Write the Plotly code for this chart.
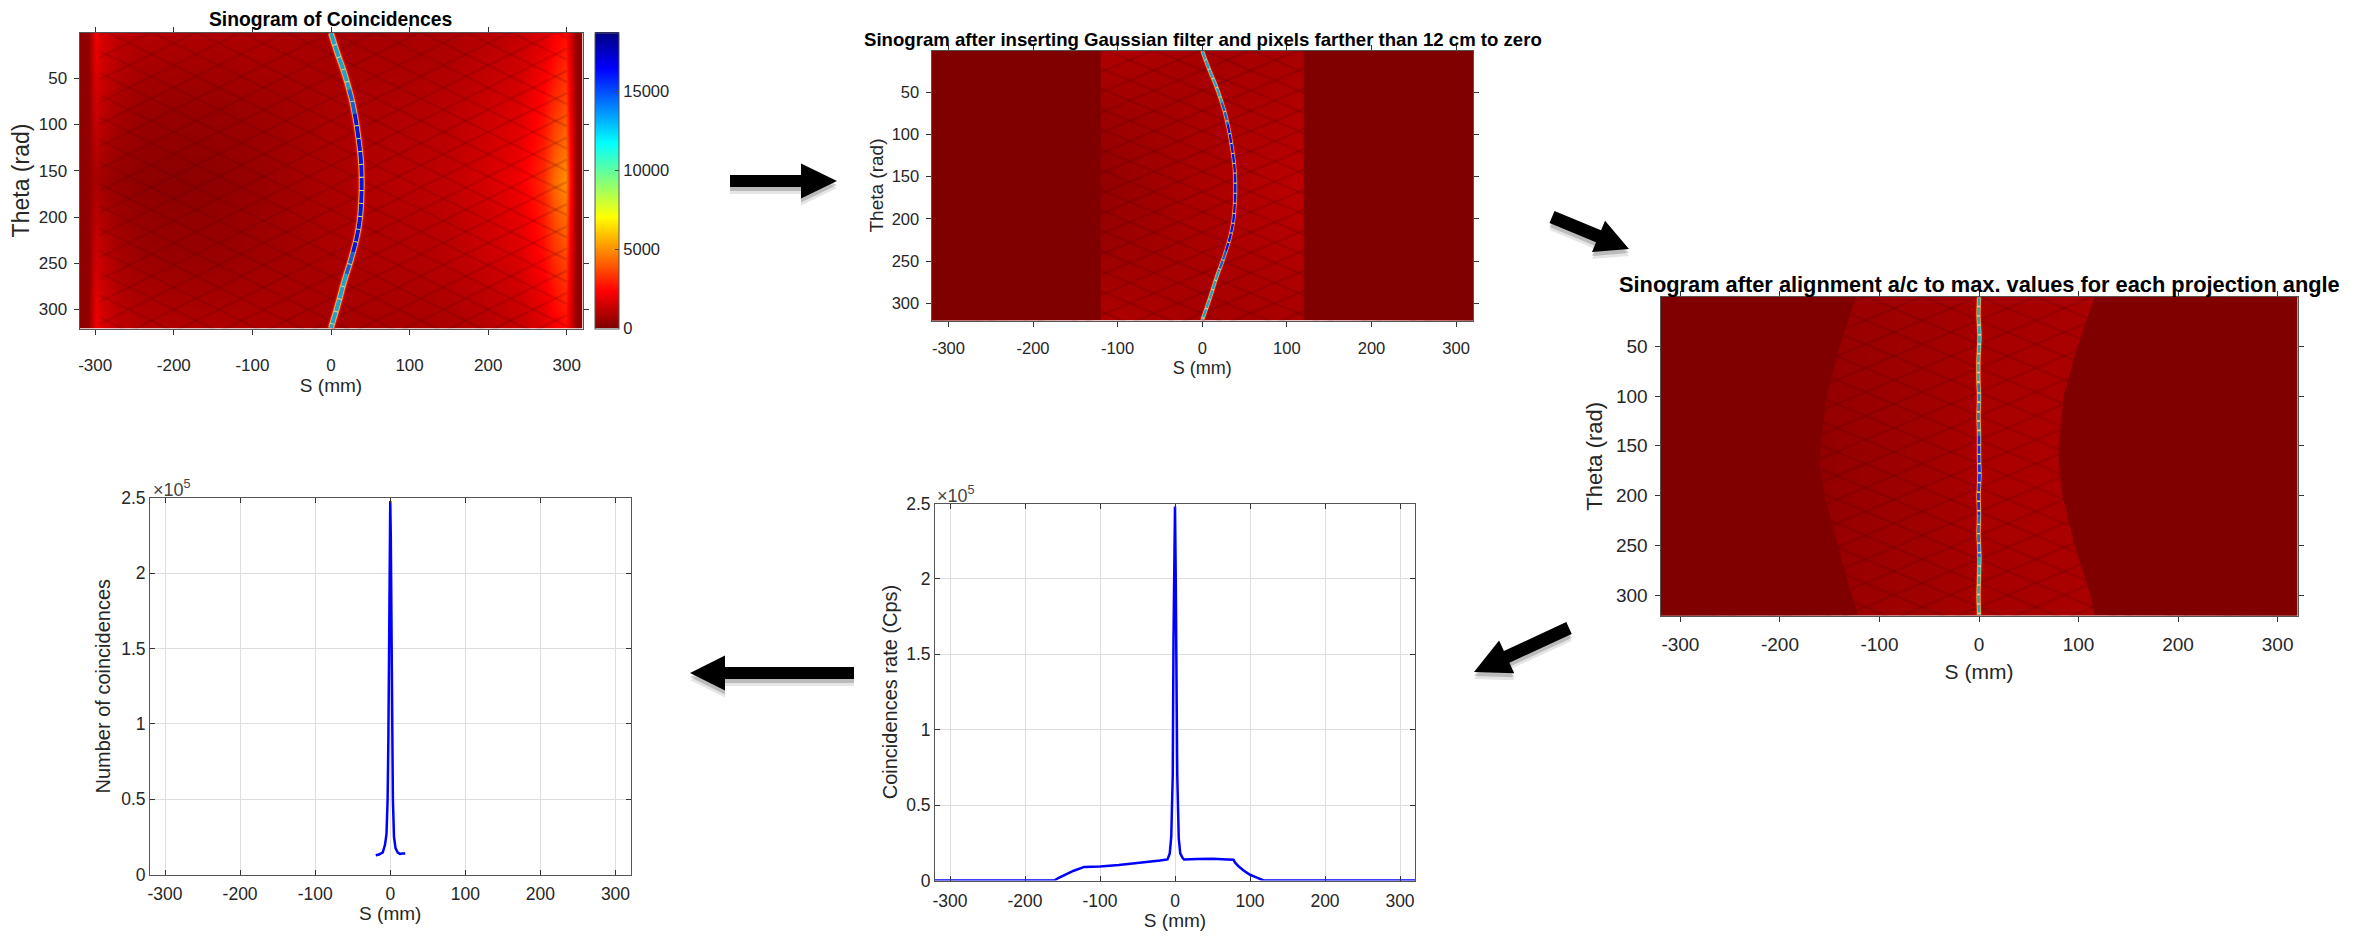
import plotly.graph_objects as go

W, H = 2367, 936
FONT = "Liberation Sans, Arial, sans-serif"
INK = "#262626"

# ---------- data ----------
S_TICKS = [-300, -200, -100, 0, 100, 200, 300]
THETA_TICKS = [50, 100, 150, 200, 250, 300]
CB_TICKS = [0, 5000, 10000, 15000]
RATE_TICKS = [0, 50000, 100000, 150000, 200000, 250000]
RATE_TICK_TEXT = ["0", "0.5", "1", "1.5", "2", "2.5"]

JET = [[0, "#800000"], [0.125, "#ff0000"], [0.375, "#ffff00"], [0.625, "#00ffff"],
       [0.875, "#0000ff"], [1, "#000080"]]
Z_MAX = 18700

# sinogram background
BG_S = [-320, -308, -300, -290, -270, -240, -200, -150, -100, -50, 0, 50, 100, 150, 200, 240, 270, 285, 298, 304, 312, 320]
BG_THETA = [1, 80, 160, 240, 320]
BG_Z = [
    [280, 340, 2100, 1600, 1130, 960, 900, 850, 850, 790, 700, 720, 720, 800, 1000, 1250, 1700, 2150, 2500, 1700, 340, 280],
    [280, 340, 1450, 1130, 730, 510, 450, 450, 560, 660, 780, 840, 920, 1050, 1400, 1700, 2500, 3200, 3700, 2250, 340, 280],
    [280, 340, 790, 560, 400, 280, 230, 280, 420, 640, 800, 920, 1050, 1200, 1600, 2100, 3100, 4300, 5000, 2800, 340, 280],
    [280, 340, 1450, 1130, 730, 510, 450, 450, 560, 660, 780, 840, 920, 1050, 1400, 1700, 2500, 3200, 3700, 2250, 340, 280],
    [280, 340, 2100, 1600, 1130, 960, 900, 850, 850, 790, 700, 720, 720, 800, 1000, 1250, 1700, 2150, 2500, 1700, 340, 280],
]
# aligned sinogram background
AL_S = [-320, -160, -120, -60, 0, 60, 120, 320]
AL_THETA = [1, 160, 320]
AL_Z = [
    [0, 450, 520, 600, 700, 720, 760, 0],
    [0, 320, 450, 600, 780, 820, 860, 0],
    [0, 450, 520, 600, 700, 720, 760, 0],
]
# crossing dark lines of the sinogram
LATTICE_INTERCEPTS = [-144, -120, -96, -72, -48, -24, 0, 24, 48, 72, 96, 120, 144, 168, 192, 216, 240, 264, 288, 312, 336, 360, 384, 408, 432, 456]
LATTICE_SLOPE = 0.42

# ridge of maximum values
RIDGE_THETA = [1, 12, 25, 38, 50, 62, 75, 88, 100, 112, 125, 138, 150, 170, 185, 200, 212, 225, 238, 250, 262, 275, 288, 300, 310, 320]
RIDGE_S = [0, 4, 9, 14.5, 19, 23, 27, 30, 32.5, 34.5, 36.5, 38, 38.8, 39, 38.3, 37, 35, 32, 28, 24, 19.5, 15, 11, 7, 3.5, 0]
ALIGNED_THETA = [1, 20, 40, 62, 88, 100, 120, 140, 160, 180, 200, 220, 238, 262, 280, 300, 320]
ALIGNED_S = [0, -0.5, 0.5, -0.5, -0.5, 0, -0.5, 0, 0, 0.5, -0.5, 0, -0.5, 0.5, 0, -0.5, 0]
RIDGE_COLOR_BANDS = [(1, 62, "#1fa4c8"), (62, 88, "#1060d0"), (88, 238, "#0018d8"), (238, 262, "#1060d0"), (262, 320, "#1fa4c8")]
ALIGNED_COLOR_BANDS = [(1, 88, "#20b0b0"), (88, 140, "#1880c0"), (140, 220, "#0838d8"), (220, 262, "#1070d0"), (262, 320, "#20b0b0")]

# band kept after the 12 cm cut
CUT_THETA = [1, 320]
CUT_LEFT = [-120, -120]
CUT_RIGHT = [120, 120]
AL_EDGE_THETA = [1, 50, 100, 150, 170, 200, 250, 300, 320]
AL_EDGE_LEFT = [-124, -140, -153, -159, -160, -155, -142, -128, -121]
AL_EDGE_RIGHT = [116, 99, 85, 80, 80, 84, 96, 112, 116]

# profiles
RATE_S = [-320, -200, -161, -155, -147, -135, -121, -100, -75, -50, -20, -10, -7, -5, -3, -2, -1, 0, 1, 2, 3, 5, 7, 10,
          12, 30, 50, 70, 78, 80, 85, 92, 100, 110, 118, 200, 320]
RATE_V = [0, 0, 0, 1800, 3800, 6500, 9000, 9300, 10300, 11500, 13300, 14000, 18000, 29000, 70000, 160000, 228000, 248000,
          200000, 120000, 70000, 28000, 18000, 15000, 14000, 14300, 14400, 14000, 13800, 12000, 9300, 6500, 3800, 1800, 0, 0, 0]
CUT_PROFILE_S = [-19.3, -15, -10, -7, -5, -3.5, -2.5, -1.5, -0.7, 0, 0.7, 1.5, 2.5, 3.5, 5, 7, 10, 13, 16, 20]
CUT_PROFILE_V = [12800, 13300, 14600, 19700, 27000, 50000, 90000, 160000, 225000, 248000, 225000, 160000, 90000, 50000, 25000, 17500, 14600, 13700, 13900, 14000]

# panel frames in pixels: left, right, top, bottom
P1 = (79.5, 582.5, 32.5, 328.5)
P2 = (931.5, 1473, 50.5, 320.5)
P3 = (1660.5, 2297.5, 297, 615.5)
P4 = (935, 1415, 503.5, 880.5)
P5 = (150, 630.5, 498, 874.5)

# arrows: tail, tip, shaft half width, head length, head half width, in pixels
ARROWS = [
    ((730, 181), (837, 181), 6, 36, 17.5),
    ((1552, 217), (1629, 249), 6.5, 33, 17),
    ((1569, 628), (1474, 672), 6.5, 36, 18),
    ((854, 673), (690, 673), 6, 35, 17.5),
]

# ---------- helpers ----------
fig = go.Figure()


def dom(p):
    return [p[0] / W, p[1] / W], [1 - p[3] / H, 1 - p[2] / H]


def axes(n, p, tick_size, x_size, y_size, label_pad, xstand, ystand, image=True, ytitle="Theta (rad)"):
    dx, dy = dom(p)
    sfx = "" if n == 1 else str(n)
    common = dict(showline=True, linecolor="#555555", linewidth=1, mirror="allticks",
                  tickcolor="#333333", tickfont=dict(family=FONT, size=tick_size, color=INK),
                  zeroline=False, automargin=False)
    x = dict(common, domain=dx, anchor="y" + sfx, range=[-320, 320], tickvals=S_TICKS,
             ticktext=[str(v) for v in S_TICKS], ticklabelstandoff=label_pad,
             title=dict(text="S (mm)", font=dict(family=FONT, size=x_size, color=INK), standoff=xstand))
    y = dict(common, domain=dy, anchor="x" + sfx,
             title=dict(text=ytitle, font=dict(family=FONT, size=y_size, color=INK), standoff=ystand))
    if image:
        x.update(ticks="outside", ticklen=5, showgrid=False)
        y.update(ticks="outside", ticklen=5, showgrid=False, range=[320.5, 0.5], tickvals=THETA_TICKS,
                 ticktext=[str(v) for v in THETA_TICKS], ticklabelstandoff=3)
    else:
        x.update(ticks="inside", ticklen=5, showgrid=True, gridcolor="#dedede", gridwidth=1)
        y.update(ticks="inside", ticklen=5, showgrid=True, gridcolor="#dedede", gridwidth=1, range=[0, 250000],
                 tickvals=RATE_TICKS, ticktext=RATE_TICK_TEXT)
    fig.update_layout({"xaxis" + sfx: x, "yaxis" + sfx: y})
    return "x" + sfx, "y" + sfx


def heat(xa, ya, s, theta, z, bar=False):
    t = dict(type="heatmap", x=s, y=theta, z=z, zmin=0, zmax=Z_MAX, colorscale=JET, zsmooth="best",
             xaxis=xa, yaxis=ya, showscale=bar, hoverinfo="skip")
    if bar:
        t["colorbar"] = dict(x=594.5 / W, xanchor="left", xpad=0, ypad=0, thickness=24, thicknessmode="pixels",
                             y=1 - P1[3] / H, yanchor="bottom", len=(P1[3] - P1[2]) / H, lenmode="fraction",
                             tickvals=CB_TICKS, tickformat="d", ticks="inside", ticklen=4, tickcolor="#444444",
                             outlinecolor="#555555", outlinewidth=1,
                             tickfont=dict(family=FONT, size=16.5, color=INK))
    fig.add_trace(go.Heatmap(t))


def lattice(xa, ya, alpha):
    xs, ys = [], []
    for c in LATTICE_INTERCEPTS:
        for sign in (1, -1):
            xs += [-295, 300, None]
            ys += [c + sign * LATTICE_SLOPE * -295, c + sign * LATTICE_SLOPE * 300, None]
    fig.add_trace(go.Scatter(x=xs, y=ys, mode="lines", xaxis=xa, yaxis=ya, hoverinfo="skip", showlegend=False,
                             line=dict(color=f"rgba(80,0,0,{alpha})", width=2.4)))


def mask(xa, ya, theta, left, right):
    fill = dict(mode="lines", fill="toself", fillcolor="#800000", line=dict(width=0, color="#800000"),
                xaxis=xa, yaxis=ya, hoverinfo="skip", showlegend=False)
    fig.add_trace(go.Scatter(x=[-320] + left + [-320], y=[theta[0]-1] + theta + [theta[-1]+1], **fill))
    fig.add_trace(go.Scatter(x=[320] + right + [320], y=[theta[0]-1] + theta + [theta[-1]+1], **fill))


def ridge(xa, ya, s, theta, scale, dash, bands):
    for color, w in (("rgba(255,0,0,0.55)", 9), ("#ff5a00", 6.4), ("#e6d68a", 5)):
        fig.add_trace(go.Scatter(x=s, y=theta, mode="lines", xaxis=xa, yaxis=ya, hoverinfo="skip", showlegend=False,
                                 line=dict(color=color, width=w * scale, shape="spline")))
    for lo, hi, color in bands:
        idx = [i for i, t in enumerate(theta) if lo <= t <= hi]
        fig.add_trace(go.Scatter(x=[s[i] for i in idx], y=[theta[i] for i in idx], mode="lines",
                                 xaxis=xa, yaxis=ya, hoverinfo="skip", showlegend=False,
                                 line=dict(color=color, width=4 * scale, dash=dash, shape="spline")))


def px_path(pts):
    return "M " + " L ".join(f"{x / W:.5f},{1 - y / H:.5f}" for x, y in pts) + " Z"


def arrow_pts(tail, tip, half, hlen, hhalf):
    dx, dy = tip[0] - tail[0], tip[1] - tail[1]
    n = (dx * dx + dy * dy) ** 0.5
    ux, uy = dx / n, dy / n
    vx, vy = -uy, ux
    bx, by = tip[0] - ux * hlen, tip[1] - uy * hlen
    return [(tail[0] + vx * half, tail[1] + vy * half), (bx + vx * half, by + vy * half),
            (bx + vx * hhalf, by + vy * hhalf), tip, (bx - vx * hhalf, by - vy * hhalf),
            (bx - vx * half, by - vy * half), (tail[0] - vx * half, tail[1] - vy * half)]


def label(x, y, text, size, bold=True, color="black"):
    fig.add_annotation(xref="paper", yref="paper", x=x / W, y=1 - y / H, text=f"<b>{text}</b>" if bold else text,
                       showarrow=False, xanchor="center", yanchor="middle",
                       font=dict(family=FONT, size=size, color=color))


# ---------- panels ----------
xa, ya = axes(1, P1, 17, 19, 23, 16, 4, 2)
heat(xa, ya, BG_S, BG_THETA, BG_Z, bar=True)
lattice(xa, ya, 0.16)
ridge(xa, ya, RIDGE_S, RIDGE_THETA, 1.0, "12px,1px", RIDGE_COLOR_BANDS)

xa, ya = axes(2, P2, 16.5, 18, 19, 8, 5, 3)
heat(xa, ya, BG_S, BG_THETA, BG_Z)
lattice(xa, ya, 0.18)
mask(xa, ya, CUT_THETA, CUT_LEFT, CUT_RIGHT)
ridge(xa, ya, RIDGE_S, RIDGE_THETA, 0.62, "9px,1px", RIDGE_COLOR_BANDS)

xa, ya = axes(3, P3, 19, 21, 22, 7, 10, 7)
heat(xa, ya, AL_S, AL_THETA, AL_Z)
lattice(xa, ya, 0.18)
mask(xa, ya, AL_EDGE_THETA, AL_EDGE_LEFT, AL_EDGE_RIGHT)
ridge(xa, ya, ALIGNED_S, ALIGNED_THETA, 0.7, "8px,1.5px", ALIGNED_COLOR_BANDS)

xa, ya = axes(4, P4, 17.5, 19, 20, 4, 3, 3, image=False, ytitle="Coincidences rate (Cps)")
fig.add_trace(go.Scatter(x=RATE_S, y=RATE_V, mode="lines", xaxis=xa, yaxis=ya, showlegend=False,
                         line=dict(color="#0000ff", width=2.5)))
xa, ya = axes(5, P5, 17.5, 19, 20, 3, 4, 5, image=False, ytitle="Number of coincidences")
fig.add_trace(go.Scatter(x=CUT_PROFILE_S, y=CUT_PROFILE_V, mode="lines", xaxis=xa, yaxis=ya, showlegend=False,
                         line=dict(color="#0000ff", width=2.5)))

# ---------- titles ----------
label(331, 19, "Sinogram of Coincidences", 19.3)
label(1202.5, 40, "Sinogram after inserting Gaussian filter and pixels farther than 12 cm to zero", 18.6)
label(1979, 284, "Sinogram after alignment a/c to max. values for each projection angle", 21.8)
label(956, 494, "×10<sup>5</sup>", 18, bold=False, color="#444444")
label(172, 488, "×10<sup>5</sup>", 18, bold=False, color="#444444")

# ---------- arrows ----------
shapes = []
for tail, tip, half, hlen, hhalf in ARROWS:
    pts = arrow_pts(tail, tip, half, hlen, hhalf)
    for off, op in ((7, 0.10), (4, 0.18)):
        shapes.append(dict(type="path", xref="paper", yref="paper", line=dict(width=0),
                           fillcolor=f"rgba(0,0,0,{op})", path=px_path([(x, y + off) for x, y in pts])))
    shapes.append(dict(type="path", xref="paper", yref="paper", line=dict(width=0), fillcolor="black",
                       path=px_path(pts)))

fig.update_layout(width=W, height=H, autosize=False, margin=dict(l=0, r=0, t=0, b=0),
                  paper_bgcolor="white", plot_bgcolor="white", showlegend=False, shapes=shapes,
                  font=dict(family=FONT, color=INK))

fig.write_html("out.html", config={"displayModeBar": False},
               post_script="document.body.style.margin='0';")
